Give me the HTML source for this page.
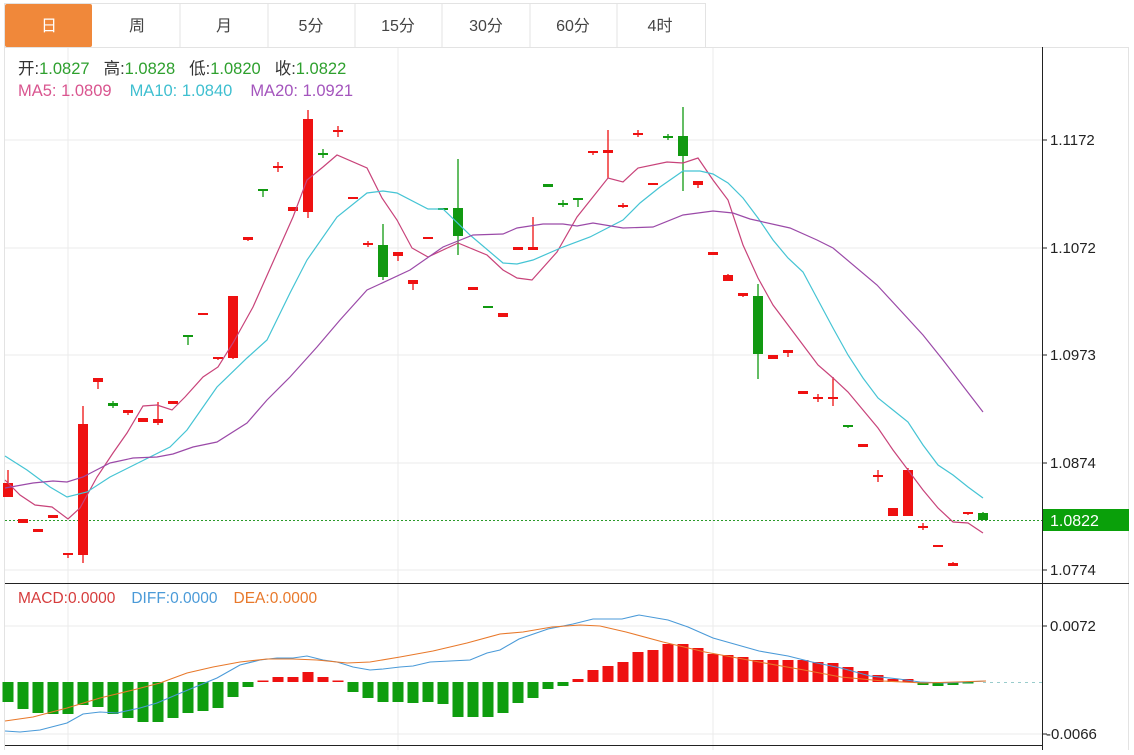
<!DOCTYPE html>
<html><head><meta charset="utf-8"><style>
body{margin:0;background:#fff;width:1134px;height:750px;overflow:hidden;font-family:"Liberation Sans","Noto Sans CJK SC",sans-serif}
</style></head><body>
<svg width="1134" height="750" xmlns="http://www.w3.org/2000/svg" font-family="Liberation Sans, Noto Sans CJK SC, sans-serif">
<rect x="0" y="0" width="1134" height="750" fill="#fff"/>
<rect x="4.5" y="3.5" width="701" height="44" fill="#fff" stroke="#e3e3e3"/>
<g stroke="#e3e3e3"><line x1="180" y1="4" x2="180" y2="47"/><line x1="268" y1="4" x2="268" y2="47"/><line x1="355" y1="4" x2="355" y2="47"/><line x1="442" y1="4" x2="442" y2="47"/><line x1="530" y1="4" x2="530" y2="47"/><line x1="617" y1="4" x2="617" y2="47"/></g>
<rect x="5" y="4" width="87" height="43" rx="2" fill="#f0883a"/>
<g font-size="16" fill="#444" text-anchor="middle">
<text x="49" y="31" fill="#fff">日</text><text x="137" y="31">周</text><text x="224" y="31">月</text><text x="311" y="31">5分</text><text x="398" y="31">15分</text><text x="486" y="31">30分</text><text x="573" y="31">60分</text><text x="660" y="31">4时</text></g>
<line x1="5" y1="47.5" x2="1129" y2="47.5" stroke="#e3e3e3"/>
<line x1="1128.5" y1="47" x2="1128.5" y2="750" stroke="#e3e3e3"/>
<line x1="4.5" y1="47" x2="4.5" y2="750" stroke="#e3e3e3"/>
<g stroke="#ebebeb"><line x1="5" y1="140" x2="1042" y2="140"/><line x1="5" y1="248" x2="1042" y2="248"/><line x1="5" y1="355" x2="1042" y2="355"/><line x1="5" y1="463" x2="1042" y2="463"/><line x1="5" y1="570" x2="1042" y2="570"/><line x1="5" y1="626" x2="1042" y2="626"/><line x1="5" y1="734" x2="1042" y2="734"/>
<line x1="68" y1="48" x2="68" y2="750"/><line x1="398" y1="48" x2="398" y2="750"/><line x1="713" y1="48" x2="713" y2="750"/></g>
<line x1="1042.5" y1="47" x2="1042.5" y2="750" stroke="#222"/>
<line x1="5" y1="583.5" x2="1129" y2="583.5" stroke="#222"/>
<line x1="5" y1="745.5" x2="1042" y2="745.5" stroke="#222"/>
<g stroke="#222"><line x1="1042" y1="140" x2="1047" y2="140"/><line x1="1042" y1="248" x2="1047" y2="248"/><line x1="1042" y1="355" x2="1047" y2="355"/><line x1="1042" y1="463" x2="1047" y2="463"/><line x1="1042" y1="570" x2="1047" y2="570"/><line x1="1042" y1="626" x2="1047" y2="626"/><line x1="1042" y1="734" x2="1047" y2="734"/></g>
<g font-size="15" fill="#222"><text x="1050" y="145">1.1172</text><text x="1050" y="253">1.1072</text><text x="1050" y="360">1.0973</text><text x="1050" y="468">1.0874</text><text x="1050" y="575">1.0774</text><text x="1050" y="631">0.0072</text><text x="1046" y="739">-0.0066</text></g>
<g font-size="16.5"><text x="18" y="74"><tspan fill="#333">开:</tspan><tspan fill="#2ea02e">1.0827</tspan><tspan fill="#333" dx="14">高:</tspan><tspan fill="#2ea02e">1.0828</tspan><tspan fill="#333" dx="14">低:</tspan><tspan fill="#2ea02e">1.0820</tspan><tspan fill="#333" dx="14">收:</tspan><tspan fill="#2ea02e">1.0822</tspan></text>
<text x="18" y="96"><tspan fill="#d9558f">MA5: 1.0809</tspan><tspan fill="#3fbfd0" dx="18">MA10: 1.0840</tspan><tspan fill="#a455bd" dx="18">MA20: 1.0921</tspan></text></g>
<text x="18" y="603" font-size="15.5"><tspan fill="#d63c3c">MACD:0.0000</tspan><tspan fill="#4a9ad8" dx="16">DIFF:0.0000</tspan><tspan fill="#e8782a" dx="16">DEA:0.0000</tspan></text>
<line x1="5" y1="520.5" x2="1042" y2="520.5" stroke="#2a9a2a" stroke-dasharray="2,2"/>
<rect x="1043" y="509" width="86" height="22" fill="#0aa00a"/>
<text x="1050" y="526" font-size="16" fill="#fff">1.0822</text>
<line x1="983" y1="682.5" x2="1042" y2="682.5" stroke="#9cc" stroke-dasharray="3,4"/>
<!-- red candles -->
<g stroke="#ee1111" stroke-width="1.3">
<line x1="8" y1="470" x2="8" y2="497"/><line x1="68" y1="553" x2="68" y2="558"/><line x1="83" y1="406" x2="83" y2="563"/><line x1="98" y1="378" x2="98" y2="389"/><line x1="128" y1="410" x2="128" y2="415"/><line x1="158" y1="402" x2="158" y2="425"/><line x1="218" y1="357" x2="218" y2="360"/><line x1="233" y1="296" x2="233" y2="359"/><line x1="248" y1="237" x2="248" y2="241"/><line x1="278" y1="162" x2="278" y2="172"/><line x1="308" y1="110" x2="308" y2="218"/><line x1="338" y1="126" x2="338" y2="137"/><line x1="368" y1="241" x2="368" y2="247"/><line x1="398" y1="252" x2="398" y2="261"/><line x1="413" y1="280" x2="413" y2="290"/><line x1="533" y1="217" x2="533" y2="250"/><line x1="593" y1="151" x2="593" y2="155"/><line x1="608" y1="130" x2="608" y2="178"/><line x1="623" y1="203" x2="623" y2="208"/><line x1="638" y1="130" x2="638" y2="137"/><line x1="698" y1="181" x2="698" y2="188"/><line x1="728" y1="274" x2="728" y2="281"/><line x1="743" y1="293" x2="743" y2="297"/><line x1="788" y1="350" x2="788" y2="357"/><line x1="818" y1="394" x2="818" y2="402"/><line x1="833" y1="377" x2="833" y2="406"/><line x1="878" y1="470" x2="878" y2="482"/><line x1="908" y1="468" x2="908" y2="516"/><line x1="923" y1="523" x2="923" y2="530"/><line x1="953" y1="562" x2="953" y2="566"/><line x1="968" y1="512" x2="968" y2="515"/>
</g>
<g fill="#ee1111">
<rect x="3" y="483" width="10" height="14"/><rect x="18" y="519" width="10" height="4"/><rect x="33" y="529" width="10" height="3"/><rect x="48" y="515" width="10" height="3"/><rect x="63" y="553" width="10" height="2"/><rect x="78" y="424" width="10" height="131"/><rect x="93" y="378" width="10" height="4"/><rect x="123" y="410" width="10" height="3"/><rect x="138" y="418" width="10" height="4"/><rect x="153" y="419" width="10" height="4"/><rect x="168" y="401" width="10" height="3"/><rect x="198" y="313" width="10" height="2"/><rect x="213" y="357" width="10" height="2"/><rect x="228" y="296" width="10" height="62"/><rect x="243" y="237" width="10" height="3"/><rect x="273" y="166" width="10" height="2"/><rect x="288" y="207" width="10" height="4"/><rect x="303" y="119" width="10" height="93"/><rect x="333" y="130" width="10" height="2"/><rect x="348" y="197" width="10" height="2"/><rect x="363" y="243" width="10" height="2"/><rect x="393" y="252" width="10" height="4"/><rect x="408" y="280" width="10" height="4"/><rect x="423" y="237" width="10" height="2"/><rect x="468" y="287" width="10" height="3"/><rect x="498" y="313" width="10" height="4"/><rect x="513" y="247" width="10" height="3"/><rect x="528" y="247" width="10" height="3"/><rect x="588" y="151" width="10" height="2"/><rect x="603" y="150" width="10" height="3"/><rect x="618" y="205" width="10" height="2"/><rect x="633" y="133" width="10" height="2"/><rect x="648" y="183" width="10" height="2"/><rect x="693" y="181" width="10" height="4"/><rect x="708" y="252" width="10" height="3"/><rect x="723" y="275" width="10" height="6"/><rect x="738" y="293" width="10" height="3"/><rect x="768" y="355" width="10" height="4"/><rect x="783" y="350" width="10" height="3"/><rect x="798" y="391" width="10" height="3"/><rect x="813" y="397" width="10" height="2"/><rect x="828" y="397" width="10" height="2"/><rect x="858" y="444" width="10" height="3"/><rect x="873" y="475" width="10" height="2"/><rect x="888" y="508" width="10" height="8"/><rect x="903" y="470" width="10" height="46"/><rect x="918" y="526" width="10" height="2"/><rect x="933" y="545" width="10" height="2"/><rect x="948" y="563" width="10" height="3"/><rect x="963" y="512" width="10" height="2"/>
</g>
<!-- green candles -->
<g stroke="#119911" stroke-width="1.3">
<line x1="113" y1="401" x2="113" y2="408"/><line x1="188" y1="335" x2="188" y2="345"/><line x1="263" y1="189" x2="263" y2="197"/><line x1="323" y1="149" x2="323" y2="158"/><line x1="383" y1="224" x2="383" y2="280"/><line x1="458" y1="159" x2="458" y2="255"/><line x1="563" y1="200" x2="563" y2="207"/><line x1="578" y1="198" x2="578" y2="207"/><line x1="668" y1="134" x2="668" y2="140"/><line x1="683" y1="107" x2="683" y2="191"/><line x1="758" y1="284" x2="758" y2="379"/><line x1="848" y1="425" x2="848" y2="428"/><line x1="983" y1="512" x2="983" y2="520"/>
</g>
<g fill="#119911">
<rect x="108" y="403" width="10" height="3"/><rect x="183" y="335" width="10" height="2"/><rect x="258" y="189" width="10" height="2"/><rect x="318" y="153" width="10" height="2"/><rect x="378" y="245" width="10" height="32"/><rect x="438" y="208" width="10" height="2"/><rect x="453" y="208" width="10" height="28"/><rect x="483" y="306" width="10" height="2"/><rect x="543" y="184" width="10" height="3"/><rect x="558" y="203" width="10" height="2"/><rect x="573" y="198" width="10" height="2"/><rect x="663" y="136" width="10" height="2"/><rect x="678" y="136" width="10" height="20"/><rect x="753" y="296" width="10" height="58"/><rect x="843" y="425" width="10" height="2"/><rect x="978" y="513" width="10" height="7"/>
</g>
<!-- MACD bars -->
<g fill="#0f9d0f">
<rect x="2.5" y="682" width="11" height="20"/><rect x="17.5" y="682" width="11" height="27"/><rect x="32.5" y="682" width="11" height="31"/><rect x="47.5" y="682" width="11" height="32"/><rect x="62.5" y="682" width="11" height="32"/><rect x="77.5" y="682" width="11" height="23"/><rect x="92.5" y="682" width="11" height="25"/><rect x="107.5" y="682" width="11" height="32"/><rect x="122.5" y="682" width="11" height="36"/><rect x="137.5" y="682" width="11" height="40"/><rect x="152.5" y="682" width="11" height="40"/><rect x="167.5" y="682" width="11" height="36"/><rect x="182.5" y="682" width="11" height="31"/><rect x="197.5" y="682" width="11" height="29"/><rect x="212.5" y="682" width="11" height="26"/><rect x="227.5" y="682" width="11" height="15"/><rect x="242.5" y="682" width="11" height="5"/>
<rect x="347.5" y="682" width="11" height="10"/><rect x="362.5" y="682" width="11" height="16"/><rect x="377.5" y="682" width="11" height="20"/><rect x="392.5" y="682" width="11" height="20"/><rect x="407.5" y="682" width="11" height="21"/><rect x="422.5" y="682" width="11" height="20"/><rect x="437.5" y="682" width="11" height="22"/><rect x="452.5" y="682" width="11" height="35"/><rect x="467.5" y="682" width="11" height="35"/><rect x="482.5" y="682" width="11" height="35"/><rect x="497.5" y="682" width="11" height="31"/><rect x="512.5" y="682" width="11" height="21"/><rect x="527.5" y="682" width="11" height="16"/><rect x="542.5" y="682" width="11" height="7"/><rect x="557.5" y="682" width="11" height="4"/>
<rect x="917.5" y="682" width="11" height="3"/><rect x="932.5" y="682" width="11" height="4"/><rect x="947.5" y="682" width="11" height="3"/><rect x="962.5" y="682" width="11" height="1.5"/>
</g>
<g fill="#ee1111">
<rect x="257.5" y="680.5" width="11" height="1.5"/><rect x="272.5" y="677" width="11" height="5"/><rect x="287.5" y="677" width="11" height="5"/><rect x="302.5" y="672" width="11" height="10"/><rect x="317.5" y="677" width="11" height="5"/><rect x="332.5" y="680.5" width="11" height="1.5"/>
<rect x="572.5" y="679" width="11" height="3"/><rect x="587.5" y="670" width="11" height="12"/><rect x="602.5" y="666" width="11" height="16"/><rect x="617.5" y="662" width="11" height="20"/><rect x="632.5" y="652" width="11" height="30"/><rect x="647.5" y="650" width="11" height="32"/><rect x="662.5" y="644" width="11" height="38"/><rect x="677.5" y="644" width="11" height="38"/><rect x="692.5" y="648" width="11" height="34"/><rect x="707.5" y="654" width="11" height="28"/><rect x="722.5" y="655" width="11" height="27"/><rect x="737.5" y="657" width="11" height="25"/><rect x="752.5" y="660" width="11" height="22"/><rect x="767.5" y="660" width="11" height="22"/><rect x="782.5" y="660" width="11" height="22"/><rect x="797.5" y="660" width="11" height="22"/><rect x="812.5" y="662" width="11" height="20"/><rect x="827.5" y="663" width="11" height="19"/><rect x="842.5" y="667" width="11" height="15"/><rect x="857.5" y="671" width="11" height="11"/><rect x="872.5" y="675" width="11" height="7"/><rect x="887.5" y="679" width="11" height="3"/><rect x="902.5" y="679" width="11" height="3"/>
</g>
<polyline fill="none" stroke="#c8437a" stroke-width="1.2" points="5,480 20,495 35,505 52,507 68,519 80,508 97,477 113,453 127,433 143,406 157,405 172,410 185,397 203,377 218,367 233,343 253,307 277,253 293,217 307,180 323,167 337,155 367,168 382,198 397,220 412,248 428,257 458,243 487,255 503,270 517,278 532,280 557,252 577,217 608,178 623,182 638,168 667,162 683,163 698,158 713,180 728,200 743,245 758,278 773,305 788,325 803,345 818,365 833,378 848,392 863,410 878,428 893,450 908,470 923,490 938,508 953,522 968,523 983,533"/>
<polyline fill="none" stroke="#45c4d4" stroke-width="1.2" points="5,456 27,470 50,487 67,497 87,492 110,477 140,462 170,447 187,430 217,387 247,358 267,340 290,293 307,260 337,217 367,193 383,191 397,193 428,209 443,209 470,235 503,263 517,264 533,260 563,247 590,237 623,220 640,203 660,187 683,171 700,171 713,174 728,183 743,198 758,218 773,240 788,258 803,272 818,300 833,328 848,355 863,378 878,398 893,410 908,422 923,445 938,465 953,475 968,487 983,498"/>
<polyline fill="none" stroke="#9b4aa8" stroke-width="1.2" points="5,488 33,483 53,481 67,482 83,477 110,463 133,458 157,457 173,454 193,447 217,442 247,423 267,400 290,377 317,347 340,320 367,290 380,284 410,270 443,247 473,235 503,234 517,228 543,224 563,224 577,226 593,223 623,228 653,227 683,215 713,211 733,213 750,219 790,228 817,240 833,248 877,285 923,335 943,360 983,412"/>
<polyline fill="none" stroke="#4a9ad8" stroke-width="1.1" points="5,731 20,732 40,730 67,723 83,714 100,712 117,713 140,708 157,703 183,692 217,678 240,665 260,660 277,658 293,658 307,656 323,660 337,662 353,667 370,670 383,669 400,667 413,666 430,662 450,661 470,660 487,653 500,650 519,639 548,629 573,624 593,619 622,619 639,615 668,620 688,627 713,638 759,651 788,656 812,662 841,668 870,676 899,679 920,682 945,683 986,681"/>
<polyline fill="none" stroke="#e8782a" stroke-width="1.1" points="5,721 33,717 67,708 100,698 133,690 160,683 187,673 213,667 240,662 267,659 293,659 317,660 347,663 370,662 400,657 433,651 467,643 500,634 523,632 552,627 580,625 600,626 626,632 663,642 705,652 759,662 804,670 841,677 883,681 924,683 986,681"/>
</svg>
</body></html>
